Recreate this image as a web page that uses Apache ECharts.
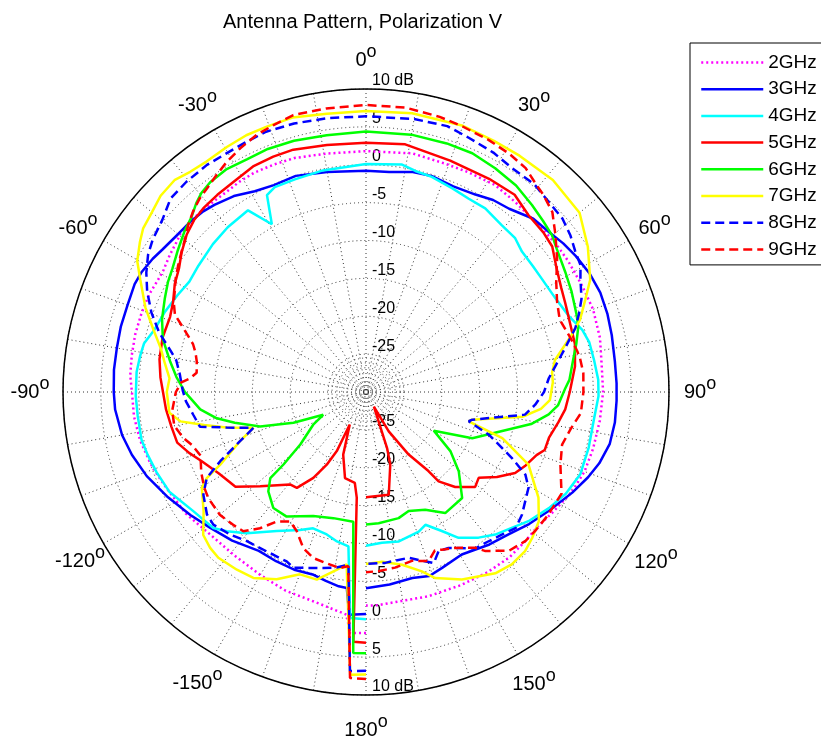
<!DOCTYPE html>
<html><head><meta charset="utf-8">
<script src="https://cdn.jsdelivr.net/npm/echarts@6/dist/echarts.min.js"></script>
<style>html,body{margin:0;padding:0;background:#fff}#c{width:821px;height:738px}</style>
</head><body><div id="c"></div>
<script>
// ---- data: angle (deg, clockwise from top) and level (dB) for each frequency ----
const FREQS = ['2GHz','3GHz','4GHz','5GHz','6GHz','7GHz','8GHz','9GHz'];

const ANG_2 = [-180,-176.2,-175,-166,-158,-150,-141,-132,-124,-116,-112,-108,-102,-96,-90,-86,-81,-76,-71,-66,-62,-59,-55,-51.6,-49,-46,-42.6,-38.7,-34.8,-31,-27,-22,-17,-9.4,0,11,19,25,32,38,46,52,57,64,70,77,84,90,97,104,110,116,123,128,133,139,146,154,163,172,177,180];
const DB_2  = [1.8,1.9,-0.5,-1.5,-1.7,-2.1,-2.3,-2.1,-1.3,-0.8,-0.4,0.0,0.5,0.8,0.9,1.2,1.3,1.4,1.4,1.4,1.2,1.2,1.6,1.9,2.3,2.3,2.3,2.2,2.2,2.4,2.5,2.4,2.3,1.9,1.8,2.1,1.9,2.0,2.2,1.9,1.7,1.8,1.8,1.8,1.9,1.7,1.3,1.3,1.1,0.9,0.7,0.2,-0.7,-1.2,-1.2,-1.1,-1.3,-1.6,-1.8,-2.0,-1.8,-1.8];

const ANG_3 = [-180,-175.7,-174.4,-172,-168,-164,-158,-152,-146,-138,-131,-125,-118,-111,-105,-100,-94,-90,-85,-80,-75,-70,-65,-62,-58,-55,-50,-46,-42,-39,-34,-29,-24,-18,-10,0,6,12,17,23,29,33.5,38,44,49,53,57,62,67,72,77,83,88,92,97,102,107,111,116,123,129,135,141,149.5,156.6,161,166,173,180];
const DB_3  = [-0.7,-0.5,-4.0,-4.1,-4.5,-4.9,-4.7,-4.7,-4.7,-3.6,-2.7,-1.7,-0.4,1.0,2.0,2.7,3.2,3.3,3.4,3.4,3.5,3.5,3.7,3.6,3.2,2.8,2.4,2.3,2.1,1.8,1.2,0.3,-0.1,0.0,-0.5,-0.8,-0.8,-0.3,-0.2,-0.5,-0.2,0.4,0.7,1.8,2.1,2.6,3.0,3.4,3.6,3.5,3.3,3.1,3.1,3.1,3.1,2.9,2.2,1.4,0.3,-1.2,-2.3,-3.4,-4.1,-5.1,-4.7,-4.3,-4.7,-4.4,-4.1];

const ANG_4 = [-180,-176,-173.5,-169,-164.6,-158.8,-154.4,-147.3,-139.8,-135,-131.7,-124.6,-117,-111,-106,-102,-96,-91,-85,-81,-77.7,-73.5,-68.5,-63,-58,-53,-46,-40,-33,-29.3,-26.7,-24,-18.5,-11,0,9,12.6,17,23,28,33,39,44,48,53,57,63.7,69.5,74,77.5,82,87,91,97,104,111,117,122.4,128.5,133,137.8,142.3,147.6,151.4,155.9,159.3,167.6,174,180];
const DB_4  = [0.0,-0.1,-9.5,-9.9,-10.5,-10.7,-9.8,-8.2,-5.6,-4.0,-3.0,-2.3,-0.9,-0.4,0.0,0.3,0.3,0.4,0.4,0.2,0.0,-0.9,-1.4,-2.0,-2.5,-2.3,-1.9,-1.6,-1.4,-4.6,-0.9,-0.4,-0.4,-0.2,0.1,0.4,-0.1,-0.3,-0.8,-1.1,-1.1,-1.6,-1.7,-2.3,-2.4,-2.4,-2.1,-1.4,-0.3,0.2,0.4,0.7,0.7,0.3,0.3,0.3,-0.4,-1.4,-2.6,-3.7,-4.6,-5.7,-7.2,-9.1,-10.8,-10.3,-9.8,-10.0,-9.7];

const ANG_5 = [-180,-177.1,-175,-173,-166.3,-160,-153.5,-153.7,-151.6,-148.5,-144.2,-140.6,-131.7,-126,-119,-113,-109,-105,-100,-95,-90,-86,-81,-75,-69,-65,-60.5,-56.5,-53,-48.7,-45,-41.5,-37,-32,-26.6,-21.5,-16.7,-9,0,9,20,30,37,42.6,48,52,57,62,66,70,77,83,90,95,99,104,108,110.3,114.7,118.5,123,127.3,131,136.8,140.9,141.7,145.7,150,151.7,159.4,161.5,167.5,180];
const DB_5  = [3.1,3.0,-16.0,-17.9,-18.3,-21.2,-25.2,-21.3,-19.1,-16.7,-14.4,-14.2,-11.3,-8.7,-7.8,-6.5,-5.3,-4.2,-3.9,-3.5,-3.2,-2.8,-2.4,-2.2,-2.3,-1.9,-1.0,-0.4,0.5,1.5,2.1,2.4,2.6,2.8,3.3,3.4,3.4,3.0,2.9,3.1,2.5,2.5,2.6,1.7,1.5,1.2,0.0,-0.8,-1.2,-1.5,-1.7,-2.2,-3.1,-3.6,-4.3,-5.1,-5.2,-6.0,-6.8,-7.6,-9.4,-11.3,-10.9,-12.8,-14.8,-16.7,-20.0,-24.0,-27.8,-22.1,-19.9,-16.1,-16.1];

const ANG_6 = [-180,-177.2,-174.4,-165.5,-157,-147.5,-141.4,-135.5,-132,-131.3,-128.6,-121.8,-118,-113,-108,-103.2,-100,-96,-92,-90,-85.5,-81,-75.5,-70.3,-65,-61,-57.5,-53,-48.5,-45,-42,-39.6,-36.6,-32,-27,-22,-16,-8.7,0,10,18,24,30,36,41.6,46,50,53,59,64,70,73,77,81,86.6,89,94,97,101,106,113.5,119.7,125,130.5,137.8,146.8,153.3,160.3,165.5,174.5,180];
const DB_6  = [4.5,4.5,-12.8,-12.8,-12.2,-10.5,-10.4,-11.6,-13.0,-15.5,-18.9,-21.8,-23.6,-19.6,-15.3,-12.2,-10.0,-8.0,-6.8,-6.1,-4.9,-3.8,-2.3,-1.4,-0.7,-0.1,0.3,1.1,2.0,2.6,3.5,4.1,4.5,4.7,4.5,4.6,4.5,4.3,4.4,4.5,4.5,4.5,4.1,3.7,3.0,2.5,2.1,1.5,0.7,0.2,-0.4,-0.7,-1.5,-2.3,-3.1,-3.7,-4.6,-5.7,-7.8,-11.3,-14.7,-19.7,-16.4,-13.9,-11.1,-10.9,-12.6,-13.3,-12.8,-12.6,-12.5];

const ANG_7 = [-180,-176.8,-173.6,-170.6,-165.3,-160.1,-154.5,-148.8,-144,-138.3,-135,-131.3,-126.3,-120.3,-118.4,-116.5,-111.4,-107.7,-104.3,-101.5,-99,-96,-90,-86,-82,-78,-73.5,-69,-63.5,-60.2,-56.5,-53.7,-50,-46.3,-42,-38.6,-34.7,-29.6,-25,-20.5,-15,-8,0,9.4,20,27,33,41.4,50,56.8,63.4,67.2,71.4,75,80.4,84,87,92.5,95.5,99,104.6,105.9,108.7,114.1,121.5,126.8,131.3,135,139.8,144.5,152.9,159.6,162.7,168.2,174.6,180];
const DB_7  = [7.3,7.4,-7.1,-6.2,-4.4,-4.4,-2.6,-1.3,-1.0,-0.7,-0.9,-1.4,-3.4,-4.9,-6.1,-8.5,-12.1,-14.4,-11.0,-8.2,-5.2,-3.9,-3.7,-4.0,-3.2,-2.3,-0.7,1.2,3.3,4.8,5.8,6.5,6.9,7.5,7.7,7.2,7.0,7.2,7.4,7.4,7.5,7.1,7.1,7.3,7.4,7.2,7.2,7.3,6.8,5.0,3.1,1.4,-0.2,-2.1,-4.7,-5.3,-5.3,-5.7,-6.8,-9.1,-15.5,-15.9,-11.0,-6.5,-3.3,-1.5,-0.8,-0.3,-0.2,-0.6,-2.2,-3.8,-5.2,-6.7,-7.5,-7.3];

const ANG_8 = [-180,-176.7,-174.2,-170.5,-166.4,-161.4,-157.6,-154.9,-148,-141.4,-136.4,-131,-127.6,-122.3,-118.4,-115.4,-111.4,-107.7,-104.3,-101.8,-97.5,-93,-89.5,-84.5,-80.5,-78,-74,-69.7,-65.3,-61.5,-57.8,-54.5,-49.8,-45.3,-40.5,-35,-30,-25.5,-21,-15,-8,0,10,17,22,28,33,39,44,48.5,52.5,56,59.4,62.2,66.6,70,73,77.6,82,85.7,90,94.3,98.1,104.6,105.9,109.2,114.3,117.4,120.5,128.2,132.3,136.4,140.6,145,152.1,155.5,158.4,165.6,173.6,180];
const DB_8  = [6.8,6.9,-7.1,-6.5,-6.1,-5.5,-4.9,-5.3,-5.2,-4.8,-4.0,-3.3,-3.5,-4.6,-6.1,-8.7,-12.1,-14.4,-11.0,-7.6,-7.0,-6.2,-5.8,-5.3,-4.6,-3.6,-1.6,0.2,1.8,3.0,4.0,4.6,5.2,6.3,6.5,6.6,6.5,6.6,6.8,6.7,6.5,6.4,6.6,6.7,6.2,5.8,5.3,5.3,4.8,4.6,4.0,3.3,2.9,2.0,1.0,-0.1,-1.1,-3.1,-4.7,-5.8,-6.5,-7.6,-8.8,-15.5,-15.9,-12.8,-8.9,-6.3,-5.1,-3.8,-3.3,-4.0,-4.5,-4.8,-6.7,-6.9,-5.7,-7.4,-7.3,-7.3];

const ANG_9 = [-180,-176.8,-174.2,-171.6,-167,-162.4,-158.1,-153.5,-149.6,-145.4,-142.1,-138.6,-135,-130,-124,-120.5,-116,-111,-107,-104,-100,-95.5,-90,-87,-85.6,-83.5,-79.8,-77,-74.5,-70.8,-68,-65,-61.5,-59,-56,-52.7,-49.7,-46.8,-43.8,-40.6,-38,-34.5,-31.2,-27.3,-23,-19,-14.7,-8,0,8,15,20,26,31,35.5,39,42,46,50.3,55,60,64.7,69.5,75,79,81,85,90,95.6,100,105,110.5,117.5,124.4,129.4,133.1,138,143.2,145,150.3,154.3,156.5,159.6,164.8,170.6,175.8,180];
const DB_9  = [7.9,7.8,-6.9,-6.5,-6.8,-7.0,-7.8,-9.5,-10.2,-9.2,-7.2,-5.5,-5.2,-4.8,-4.9,-5.2,-5.8,-6.6,-6.0,-5.1,-4.3,-4.3,-4.9,-5.6,-6.7,-7.5,-7.3,-6.9,-6.3,-4.5,-2.8,-2.0,-1.3,-0.7,-0.1,0.6,1.3,2.2,3.0,3.7,4.1,4.8,5.5,6.2,6.9,7.3,7.8,7.8,7.9,7.9,7.6,7.3,7.0,6.7,6.3,5.5,5.0,4.2,2.5,0.8,-1.0,-2.1,-2.7,-2.1,-1.6,-1.4,-1.2,-1.3,-1.5,-2.5,-3.2,-2.6,-0.9,-1.0,-1.1,-1.2,-1.8,-3.8,-4.9,-6.3,-6.9,-7.2,-6.2,-6.9,-6.5,-6.3,-6.2];

const RADIUS_TICKS = [-30,-25,-20,-15,-10,-5,0,5,10];
const ANGLE_LABELS = [0,30,60,90,120,150,180,-150,-120,-90,-60,-30];

// ---- styles ----
const FONT = '"Liberation Sans", Arial, Helvetica, sans-serif';
const STYLES = [
  {color:'#ff00ff', type:[2,3]},
  {color:'#0000ff', type:'solid'},
  {color:'#00ffff', type:'solid'},
  {color:'#ff0000', type:'solid'},
  {color:'#00ff00', type:'solid'},
  {color:'#ffff00', type:'solid'},
  {color:'#0000ff', type:[9,5]},
  {color:'#ff0000', type:[9,5]}
];
const ANGS = [ANG_2,ANG_3,ANG_4,ANG_5,ANG_6,ANG_7,ANG_8,ANG_9];
const DBS  = [DB_2,DB_3,DB_4,DB_5,DB_6,DB_7,DB_8,DB_9];

const CENTER = [366, 392], RADIUS = 303;
const GRID = {color:'#333', width:1, type:[1,3]};

// per-label text padding: [left, right, digitsTop, digitsBottom, supTop, supBottom]
const LABEL_PAD = {
  0:[0,0,0,74,0,90],        30:[10.4,0,0,59.8,0,75.8],  60:[27.3,0,0,21,0,37],
  90:[34.9,0,0,0,0,16],     120:[23.2,0,33,0,17,0],     150:[4.8,0,69.8,0,53.8,0],
  180:[0,0,86,0,70,0],      210:[0,2,68.8,0,52.8,0],    240:[0,15.9,31,0,15,0],
  270:[0,33.5,0,0,0,16],    300:[0,23.4,0,21,0,37],     330:[0,7.5,0,59.8,0,75.8]
};
const rich = {};
Object.keys(LABEL_PAD).forEach(k => {
  const [pl, pr, nt, nb, st, sb] = LABEL_PAD[k];
  rich['n' + k] = {fontSize:20, fontFamily:FONT, color:'#000', lineHeight:24, verticalAlign:'middle', padding:[nt,0,nb,pl]};
  rich['s' + k] = {fontSize:18, fontFamily:FONT, color:'#000', lineHeight:24, verticalAlign:'middle', padding:[st,pr,sb,0]};
});

function angleLabel(v) {
  const d = v > 180 ? v - 360 : v;
  if (v >= 360 || ANGLE_LABELS.indexOf(d) < 0) return '';
  const k = String(v);
  return '{n' + k + '|' + d + '}{s' + k + '|o}';
}
function radiusLabel(v) {
  if (RADIUS_TICKS.indexOf(v) < 0 || v === RADIUS_TICKS[0]) return '';
  return v === RADIUS_TICKS[RADIUS_TICKS.length - 1] ? v + ' dB' : String(v);
}

const series = FREQS.map((name, i) => ({
  type: 'line',
  name: name,
  coordinateSystem: 'polar',
  polarIndex: 0,
  symbol: 'none',
  showSymbol: false,
  animation: false,
  data: ANGS[i].map((a, j) => [DBS[i][j], a < 0 ? a + 360 : a]),
  lineStyle: {color: STYLES[i].color, width: 2.5, type: STYLES[i].type},
  itemStyle: {color: STYLES[i].color},
  z: 3
}));

const radiusLabelStyle = {show:true, align:'left', verticalAlign:'bottom', fontSize:16, fontFamily:FONT, color:'#000', formatter: radiusLabel};

const option = {
  backgroundColor: '#fff',
  animation: false,
  title: {
    text: 'Antenna Pattern, Polarization V',
    left: 223, top: 10, padding: 0,
    textStyle: {fontSize:20, fontWeight:'normal', fontFamily:FONT, color:'#000', lineHeight:24}
  },
  legend: {
    orient: 'vertical', left: 690, top: 43,
    data: FREQS, selectedMode: false,
    itemWidth: 62, itemHeight: 14, itemGap: 7.7,
    padding: [10, 40, 6, 10],
    borderColor: '#000', borderWidth: 1, backgroundColor: '#fff',
    itemStyle: {opacity: 0},
    lineStyle: {width: 2.5},
    textStyle: {fontSize:19, fontFamily:FONT, color:'#000', lineHeight:19}
  },
  polar: [
    {center: CENTER, radius: RADIUS},
    {center: CENTER, radius: RADIUS},
    {center: CENTER, radius: 34}
  ],
  angleAxis: [
    {polarIndex:0, type:'value', min:0, max:360, interval:10, startAngle:90, clockwise:true,
     axisLine:{show:true, lineStyle:{color:'#000', width:1.5}},
     axisTick:{show:false},
     splitLine:{show:true, lineStyle:GRID},
     axisLabel:{show:true, margin:-20, formatter:angleLabel, rich:rich}},
    {polarIndex:1, type:'value', min:0, max:360, startAngle:270, clockwise:true, show:false},
    {polarIndex:2, type:'value', min:0, max:360, startAngle:90, show:false}
  ],
  radiusAxis: [
    {polarIndex:0, type:'value', min:-30, max:10, interval:5,
     axisLine:{show:false}, axisTick:{show:false},
     splitLine:{show:true, lineStyle:GRID},
     axisLabel:Object.assign({margin:-6}, radiusLabelStyle)},
    {polarIndex:1, type:'value', min:-30, max:10, interval:5,
     axisLine:{show:false}, axisTick:{show:false}, splitLine:{show:false},
     axisLabel:Object.assign({margin:6}, radiusLabelStyle)},
    {polarIndex:2, type:'value', min:0, max:7, interval:1,
     axisLine:{show:false}, axisTick:{show:false}, axisLabel:{show:false},
     splitLine:{show:true, lineStyle:GRID}}
  ],
  series: series
};

const chart = echarts.init(document.getElementById('c'), null, {width:821, height:738});
chart.setOption(option);
</script>
</body></html>
